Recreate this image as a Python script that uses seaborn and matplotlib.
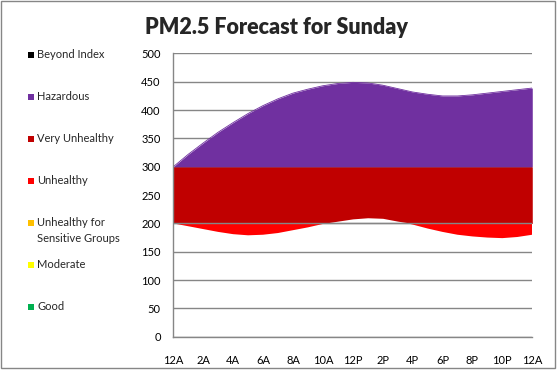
import numpy as np
import matplotlib
matplotlib.use("Agg")
import matplotlib.pyplot as plt
from matplotlib.patches import Rectangle
import seaborn as sns

# 逐小时读数 (0 = 12A ... 24 = 次日 12A)
hours = list(range(25))
upper = [300, 322, 342, 361, 378, 394, 408, 420, 430, 437, 443, 447, 449,
         448, 444, 438, 432, 428, 425, 425, 427, 430, 433, 436, 439]
lower = [200, 195, 190, 185, 181, 179, 180, 183, 188, 193, 199, 204, 208,
         210, 209, 204, 198, 191, 185, 180, 177, 175, 174, 176, 180]

tick_hours = list(range(0, 25, 2))
tick_labels = ["12A", "2A", "4A", "6A", "8A", "10A", "12P",
               "2P", "4P", "6P", "8P", "10P", "12A"]
y_ticks = list(range(0, 501, 50))

band_labels = ["Beyond Index", "Hazardous", "Very Unhealthy", "Unhealthy",
               "Unhealthy for\nSensitive Groups", "Moderate", "Good"]
band_colors = ["#000000", "#7030A0", "#C00000", "#FF0000",
               "#FFC000", "#FFFF00", "#00B050"]

GRID = "#868686"

sns.set_style("white")
plt.rcParams["font.family"] = ["Lato", "DejaVu Sans"]

fig = plt.figure(figsize=(5.57, 3.70), dpi=100)
ax = fig.add_axes([0.3111, 0.090, 0.6445, 0.7655])

x = np.array(hours)
lo = np.array(lower)
up = np.array(upper)

# 分段填充
ax.fill_between(x, lo, 200, where=lo < 200, interpolate=True,
                color=band_colors[3], lw=0, zorder=2)
ax.fill_between(x, np.maximum(lo, 200), np.minimum(up, 300),
                color=band_colors[2], lw=0, zorder=2)
ax.fill_between(x, 300, up, color=band_colors[1], lw=0, zorder=2)
sns.lineplot(x=hours, y=upper, color=band_colors[1], lw=0.6, ax=ax, zorder=2)
ax.axhline(200, color=GRID, lw=1, zorder=3)

ax.set_xlim(0, 24)
ax.set_ylim(0, 500)
ax.set_yticks(y_ticks)
ax.set_xticks(tick_hours)
ax.set_xticklabels(tick_labels)
ax.set_xticks([h for h in hours if h % 2 == 1], minor=True)
ax.yaxis.grid(True, color=GRID, lw=1, zorder=0)
ax.xaxis.grid(False)
ax.set_axisbelow(True)

for s in ["top", "right"]:
    ax.spines[s].set_visible(False)
for s in ["left", "bottom"]:
    ax.spines[s].set_color(GRID)
    ax.spines[s].set_linewidth(1)

ax.tick_params(axis="both", which="both", direction="out", length=4,
               width=1, color=GRID, labelsize=8, labelcolor="black")
ax.tick_params(axis="x", which="major", pad=9)
ax.tick_params(axis="y", pad=5)
ax.set_xlabel("")
ax.set_ylabel("")

fig.text(0.497, 0.927, "PM2.5 Forecast for Sunday", ha="center", va="center",
         fontsize=15.5, fontweight="heavy")

# 左侧图例
legend_y = [55, 97, 139, 181, 223, 265, 307]
for lab, col, yp in zip(band_labels, band_colors, legend_y):
    fy = 1 - yp / 370
    fig.add_artist(Rectangle((28 / 557, fy - 3 / 370), 6 / 557, 6 / 370,
                             transform=fig.transFigure, color=col, lw=0))
    fig.text(37 / 557, fy, lab.split("\n")[0], ha="left", va="center",
             fontsize=8)
    if "\n" in lab:
        fig.text(37 / 557, fy - 15.5 / 370, lab.split("\n")[1], ha="left",
                 va="center", fontsize=8)

fig.add_artist(Rectangle((0.0018, 0.0054), 0.9946, 0.9919,
                         transform=fig.transFigure, fill=False,
                         ec=GRID, lw=1))

fig.savefig("out.png", dpi=100)
